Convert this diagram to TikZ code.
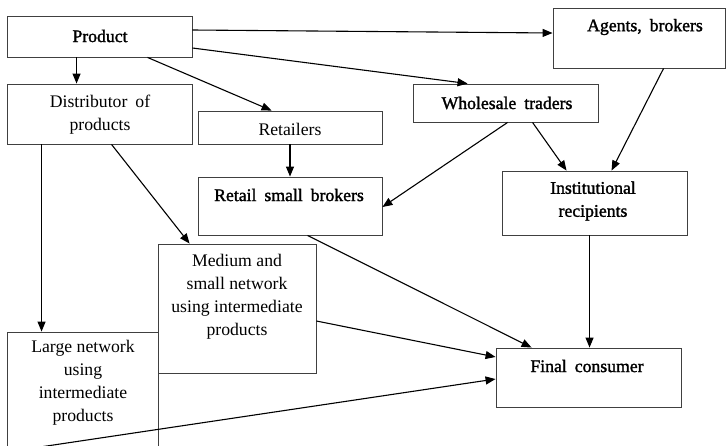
\documentclass[tikz,border=0pt]{standalone}
\usepackage{fontspec}
\setmainfont{Liberation Serif}
\newfontfamily\heavyface{Liberation Serif}[FakeBold=1.6]
\usetikzlibrary{arrows.meta}
% wider word gap used in some labels
\newcommand\wsp{\hspace{0.45em}}
\begin{document}
\begin{tikzpicture}[x=1pt,y=-1pt,
  box/.style={draw=black!75, line width=0.9pt, rectangle, inner sep=0pt},
  lbl/.style={inner sep=0pt, align=center, text=black,
    font=\fontsize{17.7}{23}\selectfont},
  hlbl/.style={lbl, font=\heavyface\fontsize{17.7}{23}\selectfont},
  link/.style={line width=1.1pt, -{Triangle[length=10pt,width=8pt]}}]
\useasboundingbox (0,0) rectangle (728,445);
\clip (0,0) rectangle (728,445);

% boxes
\node[box, minimum width=185, minimum height=41]  (prod)   at (99.5,36.5) {};
\node[box, minimum width=185, minimum height=60]  (dist)   at (99.5,114)  {};
\node[box, minimum width=184, minimum height=33]  (ret)    at (290,127.5) {};
\node[box, minimum width=172, minimum height=60]  (agents) at (639,38)    {};
\node[box, minimum width=185, minimum height=38]  (whole)  at (505.5,103) {};
\node[box, minimum width=184, minimum height=58]  (rsb)    at (290,206)   {};
\node[box, minimum width=185, minimum height=64]  (inst)   at (594.5,203) {};
\node[box, minimum width=158, minimum height=129] (med)    at (237,308.5) {};
\node[box, minimum width=151, minimum height=138] (large)  at (82.5,401)  {};
\node[box, minimum width=185, minimum height=59]  (final)  at (588.5,377.5) {};

% labels
\node[hlbl] (prodT)   at (100,36)  {Product};
\node[lbl]  (distT)   at (100,115) {Distributor\wsp of\\products};
\node[lbl]  (retT)    at (290,129) {Retailers};
\node[hlbl] (agentsT) at (645,27)  {Agents,\wsp brokers};
\node[hlbl] (wholeT)  at (507,103) {Wholesale\wsp traders};
\node[hlbl] (rsbT)    at (289,195) {Retail\wsp small\wsp brokers};
\node[hlbl] (instT)   at (593,201) {Institutional\\recipients};
\node[lbl]  (medT)    at (237,297) {Medium and\\small network\\using intermediate\\products};
\node[lbl]  (largeT)  at (83,383)  {Large network\\using\\intermediate\\products};
\node[hlbl] (finalT)  at (587,366) {Final\wsp consumer};

% connectors
\coordinate (low) at (40,447);
\draw[link] ([xshift=70pt]prod.south west) -- ([xshift=70pt]dist.north west);
\draw[link] ([xshift=141pt]prod.south west) -- ([xshift=74pt]ret.north west);
\draw[link] ([yshift=6.5pt]prod.east) -- ([yshift=5pt]agents.west);
\draw[link] ([yshift=-11.5pt]prod.east) -- ([xshift=55pt]whole.north west);
\draw[link] ([xshift=35pt]dist.south west) -- ([xshift=35pt]large.north west);
\draw[link] ([xshift=105pt]dist.south west) -- ([xshift=32pt]med.north west);
\draw[link] (ret.south) -- (rsb.north);
\draw[link] ([xshift=95pt]whole.south west) -- ([yshift=-1pt]rsb.east);
\draw[link] ([xshift=120pt]whole.south west) -- ([xshift=65pt]inst.north west);
\draw[link] ([xshift=111pt]agents.south west) -- ([xshift=110pt]inst.north west);
\draw[link] ([xshift=88pt]inst.south west) -- ([xshift=94pt]final.north west);
\draw[link] ([xshift=110pt]rsb.south west) -- ([xshift=36pt]final.north west);
\draw[link] ([yshift=-12.5pt]med.east) -- ([yshift=20.5pt]final.west);
\draw[link] (low) -- ([yshift=-1.5pt]final.west);
\end{tikzpicture}
\end{document}
